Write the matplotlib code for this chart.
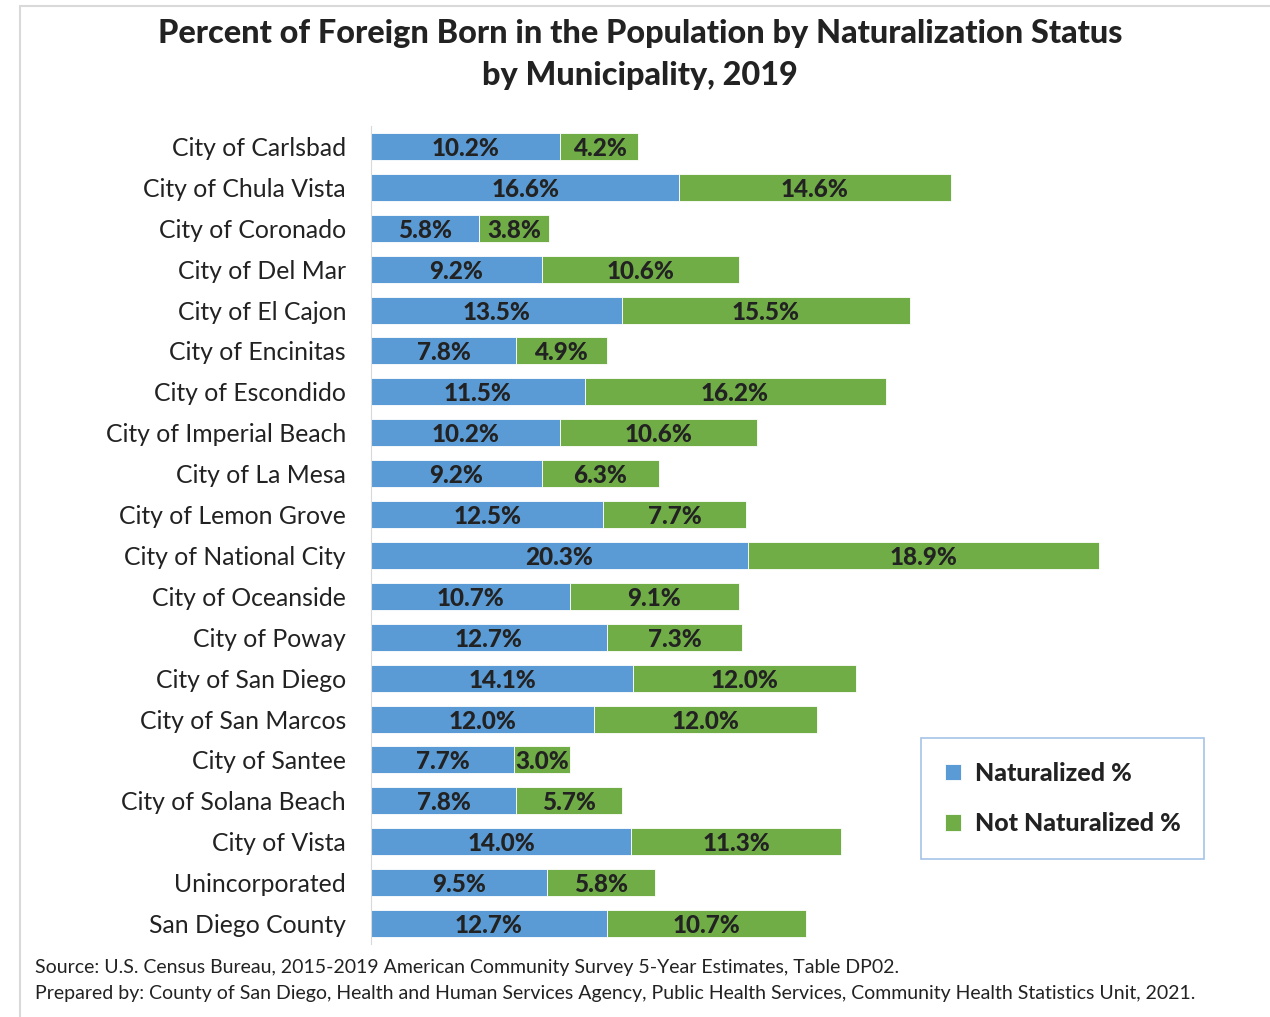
import matplotlib.pyplot as plt
import numpy as np
from matplotlib.patches import Rectangle

plt.rcParams['font.family'] = ['Lato', 'DejaVu Sans']

places = [
    "City of Carlsbad", "City of Chula Vista", "City of Coronado", "City of Del Mar",
    "City of El Cajon", "City of Encinitas", "City of Escondido", "City of Imperial Beach",
    "City of La Mesa", "City of Lemon Grove", "City of National City", "City of Oceanside",
    "City of Poway", "City of San Diego", "City of San Marcos", "City of Santee",
    "City of Solana Beach", "City of Vista", "Unincorporated", "San Diego County",
]
naturalized = [10.2, 16.6, 5.8, 9.2, 13.5, 7.8, 11.5, 10.2, 9.2, 12.5,
               20.3, 10.7, 12.7, 14.1, 12.0, 7.7, 7.8, 14.0, 9.5, 12.7]
not_naturalized = [4.2, 14.6, 3.8, 10.6, 15.5, 4.9, 16.2, 10.6, 6.3, 7.7,
                   18.9, 9.1, 7.3, 12.0, 12.0, 3.0, 5.7, 11.3, 5.8, 10.7]

BLUE = "#5B9BD5"
GREEN = "#70AD47"
TXT = "#222222"

fig = plt.figure(figsize=(12.7, 10.17), dpi=100)
ax = fig.add_axes([371 / 1270, 1 - 944 / 1017, 743 / 1270, 818 / 1017])

y = np.arange(len(places))
nat = np.array(naturalized)
notn = np.array(not_naturalized)
ax.barh(y, nat, height=0.66, color=BLUE, edgecolor="white", linewidth=0.6, label="Naturalized %")
ax.barh(y, notn, left=nat, height=0.66, color=GREEN, edgecolor="white", linewidth=0.6,
        label="Not Naturalized %")

for i in range(len(places)):
    ax.text(nat[i] / 2, y[i] + 0.05, f"{nat[i]:.1f}%", ha="center", va="center",
            fontsize=17.5, fontweight="black", color=TXT)
    ax.text(nat[i] + notn[i] / 2, y[i] + 0.05, f"{notn[i]:.1f}%", ha="center", va="center",
            fontsize=17.5, fontweight="black", color=TXT)

ax.set_ylim(len(places) - 0.5, -0.5)
ax.set_xlim(0, 40)
ax.set_yticks(y)
ax.set_yticklabels(places, fontsize=17.8, color=TXT)
ax.tick_params(axis="y", length=0, pad=18)
ax.set_xticks([])
for s in ["top", "right", "bottom"]:
    ax.spines[s].set_visible(False)
ax.spines["left"].set_color("#d9d9d9")

# legend
leg = fig.legend(loc="upper left", bbox_to_anchor=(921 / 1270, 1 - 738 / 1017),
                 frameon=True, fancybox=False, prop={"weight": "black", "size": 18},
                 handlelength=0.65, handleheight=0.65, labelspacing=1.1, borderpad=0.95,
                 handletextpad=0.55, borderaxespad=0)
leg.get_frame().set_edgecolor("#8DB4E2")
leg.get_frame().set_linewidth(1.2)
for t in leg.get_texts():
    t.set_color(TXT)

fig.text(640 / 1270, 1 - 33 / 1017, "Percent of Foreign Born in the Population by Naturalization Status",
         ha="center", va="center", fontsize=23.3, fontweight="black", color=TXT)
fig.text(640 / 1270, 1 - 75 / 1017, "by Municipality, 2019",
         ha="center", va="center", fontsize=23.3, fontweight="black", color=TXT)

fig.text(35 / 1270, 1 - 968 / 1017,
         "Source: U.S. Census Bureau, 2015-2019 American Community Survey 5-Year Estimates, Table DP02.",
         ha="left", va="center", fontsize=14, color=TXT)
fig.text(35 / 1270, 1 - 994 / 1017,
         "Prepared by: County of San Diego, Health and Human Services Agency, Public Health Services, "
         "Community Health Statistics Unit, 2021.",
         ha="left", va="center", fontsize=14, color=TXT)

# outer frame
fig.add_artist(Rectangle((20 / 1270, -0.01), 1.0, 1 - 6 / 1017 + 0.01, transform=fig.transFigure,
                         fill=False, edgecolor="#d9d9d9", linewidth=1.5))

fig.savefig("out.png", dpi=100)
